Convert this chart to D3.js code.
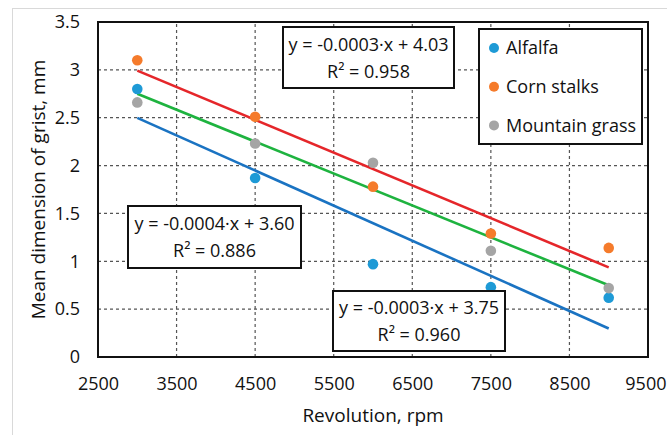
<!DOCTYPE html>
<html>
<head>
<meta charset="utf-8">
<script src="https://cdn.jsdelivr.net/npm/d3@7"></script>
<style>
  body { margin: 0; background: #fff; }
  svg text { font-family: "Open Sans", sans-serif; fill: #111; }
</style>
</head>
<body>
<svg width="667" height="435"></svg>
<script>
var width = 667, height = 435;

// data
var revolutions = [3000, 4500, 6000, 7500, 9000];
var alfalfa = [2.80, 1.87, 0.97, 0.73, 0.62];
var cornStalks = [3.10, 2.51, 1.78, 1.29, 1.14];
var mountainGrass = [2.66, 2.23, 2.03, 1.11, 0.72];
var seriesNames = ['Alfalfa', 'Corn stalks', 'Mountain grass'];
var xTicks = [2500, 3500, 4500, 5500, 6500, 7500, 8500, 9500];
var yTicks = [0, 0.5, 1, 1.5, 2, 2.5, 3, 3.5];
var trendLabels = [
  ['y = -0.0004\u00b7x + 3.60', 'R\u00b2 = 0.886'],
  ['y = -0.0003\u00b7x + 4.03', 'R\u00b2 = 0.958'],
  ['y = -0.0003\u00b7x + 3.75', 'R\u00b2 = 0.960']
];

var series = [
  { name: seriesNames[0], values: alfalfa, dot: '#1e9ad6', line: '#1a73c2' },
  { name: seriesNames[1], values: cornStalks, dot: '#f57b2b', line: '#e5262a' },
  { name: seriesNames[2], values: mountainGrass, dot: '#a5a5a5', line: '#1eb33f' }
];

var svg = d3.select('svg');
var margin = { left: 98, top: 22, right: 19, bottom: 78 };

// outer chart frame
svg.append('rect')
  .attr('x', 12.5).attr('y', 8.5)
  .attr('width', 700).attr('height', 500)
  .attr('fill', 'none')
  .attr('stroke', '#d9d9d9');

var x = d3.scaleLinear()
  .domain([2500, 9500])
  .range([margin.left, width - margin.right]);

var y = d3.scaleLinear()
  .domain([0, 3.5])
  .range([height - margin.bottom, margin.top]);

// dashed grid
var grid = svg.append('g');
grid.selectAll('.vgrid')
  .data(xTicks.slice(1, -1))
  .enter().append('line')
  .attr('x1', function(d) { return x(d); })
  .attr('x2', function(d) { return x(d); })
  .attr('y1', y(0)).attr('y2', y(3.5))
  .attr('stroke', '#555').attr('stroke-width', 1.2)
  .attr('stroke-dasharray', '3,3');
grid.selectAll('.hgrid')
  .data(yTicks.slice(1, -1))
  .enter().append('line')
  .attr('y1', function(d) { return y(d); })
  .attr('y2', function(d) { return y(d); })
  .attr('x1', x(2500)).attr('x2', x(9500))
  .attr('stroke', '#555').attr('stroke-width', 1.2)
  .attr('stroke-dasharray', '3,3');

// axes (labels only, frame drawn separately)
var xAxis = svg.append('g')
  .attr('transform', 'translate(0,' + (y(0) + 20) + ')')
  .call(d3.axisBottom(x).tickValues(xTicks).tickSize(0).tickPadding(0)
    .tickFormat(d3.format('d')));
xAxis.select('.domain').remove();
xAxis.selectAll('text')
  .style('font-size', '18px')
  .attr('fill', '#111');
// last label sits at the page edge, keep it inside
xAxis.selectAll('text')
  .filter(function(d) { return d === 9500; })
  .attr('text-anchor', 'end')
  .attr('x', width - 1 - x(9500));

var yAxis = svg.append('g')
  .attr('transform', 'translate(' + (x(2500) - 18) + ',0)')
  .call(d3.axisLeft(y).tickValues(yTicks).tickSize(0).tickPadding(0)
    .tickFormat(function(d) { return String(d); }));
yAxis.select('.domain').remove();
yAxis.selectAll('text')
  .style('font-size', '18px')
  .attr('fill', '#111');

// trend lines (least squares fit of each series)
function fit(vals) {
  var mx = d3.mean(revolutions), my = d3.mean(vals);
  var sxy = d3.sum(revolutions, function(r, i) { return (r - mx) * (vals[i] - my); });
  var sxx = d3.sum(revolutions, function(r) { return (r - mx) * (r - mx); });
  var b = sxy / sxx;
  return function(r) { return my + b * (r - mx); };
}

var lineGen = d3.line()
  .x(function(d) { return x(d[0]); })
  .y(function(d) { return y(d[1]); });

var drawOrder = [1, 2, 0];
drawOrder.forEach(function(i) {
  var s = series[i];
  var f = fit(s.values);
  var ends = d3.extent(revolutions);
  svg.append('path')
    .attr('d', lineGen(ends.map(function(r) { return [r, f(r)]; })))
    .attr('stroke', s.line)
    .attr('stroke-width', 2.6)
    .attr('fill', 'none');
});

// points
series.forEach(function(s) {
  svg.append('g').selectAll('circle')
    .data(s.values)
    .enter().append('circle')
    .attr('cx', function(d, i) { return x(revolutions[i]); })
    .attr('cy', function(d) { return y(d); })
    .attr('r', 5.3)
    .attr('fill', s.dot);
});

// plot frame
svg.append('rect')
  .attr('x', x(2500)).attr('y', y(3.5))
  .attr('width', x(9500) - x(2500))
  .attr('height', y(0) - y(3.5))
  .attr('fill', 'none')
  .attr('stroke', '#111')
  .attr('stroke-width', 2);

// equation boxes
var boxes = [
  { x: 128, y: 206, w: 173, h: 62 },
  { x: 283, y: 27, w: 171, h: 61 },
  { x: 333, y: 291, w: 172, h: 60 }
];
boxes.forEach(function(b, i) {
  var g = svg.append('g').attr('transform', 'translate(' + b.x + ',' + b.y + ')');
  g.append('rect')
    .attr('width', b.w).attr('height', b.h)
    .attr('fill', '#fff')
    .attr('stroke', '#111').attr('stroke-width', 2);
  g.selectAll('text')
    .data(trendLabels[i])
    .enter().append('text')
    .attr('x', b.w / 2)
    .attr('y', function(d, j) { return b.h / 2 - 13 + j * 27; })
    .attr('dy', '0.35em')
    .attr('text-anchor', 'middle')
    .style('font-size', '18px')
    .text(function(d) { return d; });
});

// legend
var legend = svg.append('g').attr('transform', 'translate(479,29)');
legend.append('rect')
  .attr('width', 163).attr('height', 115)
  .attr('fill', '#fff')
  .attr('stroke', '#111').attr('stroke-width', 2);
var items = legend.selectAll('.item')
  .data(series)
  .enter().append('g')
  .attr('transform', function(d, i) { return 'translate(0,' + (19 + i * 38.7) + ')'; });
items.append('circle')
  .attr('cx', 15).attr('cy', 0).attr('r', 5)
  .attr('fill', function(d) { return d.dot; });
items.append('text')
  .attr('x', 27).attr('dy', '0.35em')
  .style('font-size', '18px')
  .text(function(d) { return d.name; });

// axis titles
svg.append('text')
  .attr('x', (x(2500) + x(9500)) / 2)
  .attr('y', 415).attr('dy', '0.35em')
  .attr('text-anchor', 'middle')
  .style('font-size', '19px')
  .text('Revolution, rpm');

svg.append('text')
  .attr('transform', 'translate(38,' + ((y(0) + y(3.5)) / 2) + ') rotate(-90)')
  .attr('dy', '0.35em')
  .attr('text-anchor', 'middle')
  .style('font-size', '19px')
  .text('Mean dimension of grist, mm');
</script>
</body>
</html>
